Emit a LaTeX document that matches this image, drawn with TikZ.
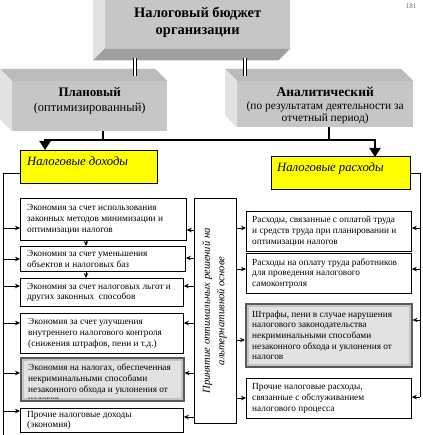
\documentclass[tikz,border=0pt]{standalone}
\usepackage{fontspec}
\setmainfont{Liberation Serif}
\usetikzlibrary{arrows.meta,calc}
\definecolor{facefront}{HTML}{C6C6C6}
\definecolor{facetop}{HTML}{BBBBBB}
\definecolor{faceside}{HTML}{E2E2E2}
\definecolor{facebottom}{HTML}{A0A0A0}
\definecolor{ylw}{HTML}{FFFF00}
\definecolor{frameg}{HTML}{5A5A5A}
\definecolor{midg}{HTML}{C4C4C4}
\definecolor{lightg}{HTML}{E2E2E2}
\newcommand\fsz[2]{\fontsize{#1}{#2}\selectfont}
\begin{document}
\begin{tikzpicture}[x=1pt,y=-1pt,
  front/.style={fill=facefront, draw=none, inner sep=0pt, anchor=north west},
  wbox/.style={draw=black, fill=white, line width=0.8pt, inner sep=0pt, anchor=north west},
  gbox/.style={draw=frameg, fill=midg, line width=1.5pt, inner sep=0pt, anchor=north west},
  ybox/.style={draw=black, fill=ylw, line width=0.8pt, inner sep=0pt, anchor=north west},
  btxt/.style={anchor=west, align=left, inner sep=0pt, font=\fsz{9.3}{10.7}},
  dbl/.style={draw=black, line width=1.3pt, double=white, double distance=1.6pt},
  bus/.style={draw=black, line width=2pt},
  ln/.style={draw=black, line width=0.8pt},
  arr/.style={draw=black, line width=0.8pt, -{Stealth[length=5pt,width=4.5pt]}},
  bigarr/.style={draw=black, line width=2pt, -{Triangle[length=9pt,width=11pt]}}
]
\useasboundingbox (0,0) rectangle (422,435);
\fill[white] (0,0) rectangle (422,435);

% page number
\node[font=\fsz{7}{8}, text=black!60] (pg) at (411,6) {181};

% ---- top 3D box
\node[front, minimum width=185, minimum height=48] (tb) at (105,0) {};
\fill[faceside] (tb.north west) -- (tb.south west) -- ++(-12,12) |- (tb.north west) -- cycle;
\fill[facebottom] (tb.south west) -- (tb.south east) -- ++(-12,12) -- ($(tb.south west)+(-12,12)$) -- cycle;
\node[anchor=base, font=\bfseries\fsz{14.5}{17}] (tbt1) at ($(tb.north)+(0,18)$) {Налоговый бюджет};
\node[anchor=base, font=\bfseries\fsz{14.5}{17}] (tbt2) at ($(tb.north)+(0,35)$) {организации};

% ---- planned box
\node[front, minimum width=155, minimum height=50] (pl) at (12,81) {};
\fill[facetop] (pl.north west) -- (pl.north east) -- ++(-12,-12) -- ($(pl.north west)+(-12,-12)$) -- cycle;
\fill[faceside] (pl.north west) -- ++(-12,-12) -- ($(pl.south west)+(-12,-12)$) -- (pl.south west) -- cycle;
\node[anchor=base, font=\bfseries\fsz{13}{15}] (plt1) at ($(pl.north)+(0,16)$) {Плановый};
\node[anchor=base, font=\fsz{12.5}{14}] (plt2) at ($(pl.north)+(0,31)$) {(оптимизированный)};

% ---- analytic box
\node[front, minimum width=176, minimum height=46] (an) at (237,81) {};
\fill[facetop] (an.north west) -- (an.north east) -- ++(-12,-12) -- ($(an.north west)+(-12,-12)$) -- cycle;
\fill[faceside] (an.north west) -- ++(-12,-12) -- ($(an.south west)+(-12,-12)$) -- (an.south west) -- cycle;
\node[anchor=base, font=\bfseries\fsz{13.5}{15}] (ant1) at ($(an.north)+(0,16)$) {Аналитический};
\node[anchor=base, font=\fsz{11.4}{13}] (ant2) at ($(an.north)+(0,29)$) {(по результатам деятельности за};
\node[anchor=base, font=\fsz{11.4}{13}] (ant3) at ($(an.north)+(0,41)$) {отчетный период)};

% ---- double links
\coordinate (tbb) at ($(tb.south)+(0,10)$);
\coordinate (dl) at (135,76);
\coordinate (dr) at (245,76);
\draw[dbl] (dl |- tbb) -- (dl);
\draw[dbl] (dr |- tbb) -- (dr);

% ---- yellow boxes
\node[ybox, minimum width=137, minimum height=33] (yl) at (20,150) {};
\node[ybox, minimum width=139, minimum height=33] (yr) at (271,156) {};
\node[anchor=base west, inner sep=0pt, font=\itshape\fsz{12.7}{14}] (ylt) at ($(yl.north west)+(7,16)$) {Налоговые доходы};
\node[anchor=base west, inner sep=0pt, font=\itshape\fsz{12.7}{14}] (yrt) at ($(yr.north west)+(6,16)$) {Налоговые расходы};

% ---- bus
\coordinate (bl) at (45,140);
\coordinate (br) at (375,140);
\coordinate (pls) at (103,131);
\coordinate (ans) at (329,127);
\draw[bus] (pls) -- (pls |- bl);
\draw[bus] (ans) -- (ans |- br);
\draw[bus] ([xshift=-1pt]bl) -- ([xshift=1pt]br);
\draw[bigarr] (bl) -- (yl.north -| bl);
\draw[bigarr] (br) -- ([yshift=-1pt]yr.north -| br);

% ---- left boxes
\node[wbox, minimum width=166, minimum height=42] (l1) at (20,198) {};
\node[wbox, minimum width=165, minimum height=25] (l2) at (20,246) {};
\node[wbox, minimum width=163, minimum height=28] (l3) at (20,278) {};
\node[wbox, minimum width=163, minimum height=40] (l4) at (20,313) {};
\node[gbox, minimum width=163, minimum height=43] (l5) at (20,357) {};
\node[wbox, minimum width=163, minimum height=24] (l6) at (20,408) {};
\fill[lightg] ($(l5.north west)+(4,4)$) rectangle ($(l5.south east)+(-4,-4)$);

\node[btxt] (l1t) at ($(l1.west)+(7,0)$) {Экономия за счет использования\\законных методов минимизации и\\оптимизации налогов};
\node[btxt] (l2t) at ($(l2.west)+(7,0)$) {Экономия за счет уменьшения\\объектов и налоговых баз};
\node[btxt] (l3t) at ($(l3.west)+(7,0)$) {Экономия за счет налоговых льгот и\\других законных\ \ способов};
\node[btxt] (l4t) at ($(l4.west)+(8,0)$) {Экономия за счет улучшения\\внутреннего налогового контроля\\(снижения штрафов, пени и т.д.)};
\begin{scope}
  \clip ($(l5.north west)+(4,4)$) rectangle ($(l5.south east)+(-4,-3)$);
  \node[btxt, anchor=north west] (l5t) at ($(l5.north west)+(8,7)$) {Экономия на налогах, обеспеченная\\некриминальными способами\\незаконного обхода и уклонения от\\налогов};
\end{scope}
\node[btxt] (l6t) at ($(l6.west)+(7,0)$) {Прочие налоговые доходы\\(экономия)};

% ---- right boxes
\node[wbox, minimum width=165, minimum height=40] (r1) at (246,211) {};
\node[wbox, minimum width=165, minimum height=40] (r2) at (246,253) {};
\node[gbox, minimum width=166, minimum height=63] (r3) at (245,303) {};
\node[wbox, minimum width=165, minimum height=40] (r4) at (246,378) {};
\fill[lightg] ($(r3.north west)+(4,4)$) rectangle ($(r3.south east)+(-4,-4)$);

\node[btxt] (r1t) at ($(r1.west)+(6,0)$) {Расходы, связанные с оплатой труда\\и средств труда при планировании и\\оптимизации налогов};
\node[btxt] (r2t) at ($(r2.west)+(6,0)$) {Расходы на оплату труда работников\\для проведения налогового\\самоконтроля};
\node[btxt] (r3t) at ($(r3.west)+(7,0)$) {Штрафы, пени в случае нарушения\\налогового законодательства\\некриминальными способами\\незаконного обхода и уклонения от\\налогов};
\node[btxt] (r4t) at ($(r4.west)+(6,0)$) {Прочие налоговые расходы,\\связанные с обслуживанием\\налогового процесса};

% ---- center box
\node[wbox, minimum width=42, minimum height=225] (cb) at (194,198) {};
\node[rotate=90, align=center, inner sep=0pt, font=\itshape\fsz{10.6}{14.5}] (cbt) at ([xshift=-1pt]cb.center) {Принятие оптимальных решений на\\альтернативной основе};

% ---- left bus
\coordinate (lb) at (3,173);
\coordinate (lbe) at (3,435);
\draw[ln] (yl.west |- lb) -- (lb) -- (lbe);
\foreach \b/\yy in {l1/228,l2/259,l3/286,l4/323,l5/373,l6/411}
  \draw[arr] (lb |- 0,\yy) -- (\b.west |- 0,\yy);

% ---- right bus
\coordinate (rb) at (420,173);
\coordinate (rbe) at (420,397);
\draw[ln] (yr.east |- rb) -- (rb) -- (rbe);
\foreach \b/\yy in {r1/228,r2/269,r3/320,r4/397}
  \draw[arr] (rb |- 0,\yy) -- (\b.east |- 0,\yy);

% ---- center arrows
\foreach \b/\yy in {l1/230,l2/258,l3/286,l4/323,l5/373,l6/417}
  \draw[arr] (cb.west |- 0,\yy) -- (\b.east |- 0,\yy);
\foreach \b/\yy in {r1/228,r2/269,r3/340,r4/398}
  \draw[arr] (cb.east |- 0,\yy) -- (\b.west |- 0,\yy);

% ---- vertical small arrows
\coordinate (vx) at (86,0);
\draw[arr] (l1.south -| vx) -- (l2.north -| vx);
\draw[arr] (l2.south -| vx) -- (l3.north -| vx);
\end{tikzpicture}
\end{document}
